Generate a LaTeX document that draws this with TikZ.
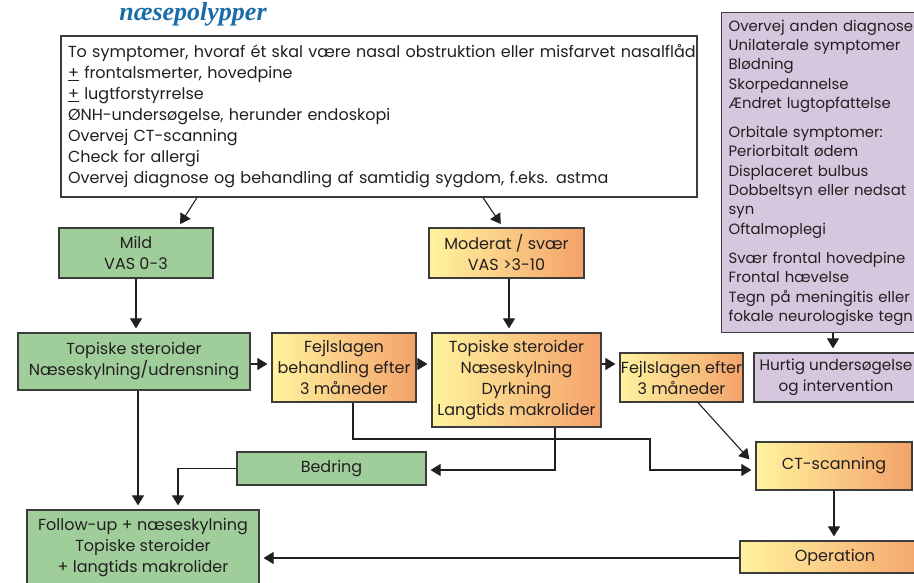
\documentclass[tikz,border=0pt]{standalone}
\usepackage{fontspec}
\setmainfont{Poppins}
\newfontfamily\titlefont{Liberation Serif}
\usetikzlibrary{arrows.meta,calc}
\definecolor{gfill}{RGB}{160,206,154}
\definecolor{pfill}{RGB}{214,198,222}
\definecolor{yl}{RGB}{255,243,158}
\definecolor{orng}{RGB}{244,162,106}
\definecolor{bord}{RGB}{60,60,60}
\definecolor{ink}{RGB}{35,31,32}
\definecolor{tblue}{RGB}{26,108,168}
\begin{document}
\begin{tikzpicture}[x=1pt,y=-1pt,
 every node/.style={font=\fontsize{16}{21}\selectfont, text=ink},
 box/.style={draw=bord, line width=1.2pt, inner sep=0pt, align=center},
 gbox/.style={box, fill=gfill},
 obox/.style={box, left color=yl, right color=orng},
 pbox/.style={box, fill=pfill},
 arr/.style={draw=ink, line width=1.1pt, -{Triangle[length=10pt,width=12pt]}, shorten >=4pt}]
\useasboundingbox (0,0) rectangle (914,582);
\fill[white] (0,0) rectangle (914,582);
\clip (0,0) rectangle (914,582);

\node[font=\titlefont\fontsize{26}{26}\selectfont\bfseries\itshape, text=tblue, anchor=base] (title) at (193,20) {næsepolypper};

\node[box, fill=white, minimum width=636pt, minimum height=161pt, text width=622pt, inner xsep=7pt, align=left] (top) at (379,116.5)
 {\mbox{To symptomer, hvoraf ét skal være nasal obstruktion eller misfarvet nasalflåd}\\
  \underline{+} frontalsmerter, hovedpine\\
  \underline{+} lugtforstyrrelse\\
  ØNH-undersøgelse, herunder endoskopi\\
  Overvej CT-scanning\\
  Check for allergi\\
  \mbox{Overvej diagnose og behandling af samtidig sygdom, f.eks. astma}};

\node[pbox, anchor=north west, minimum height=320pt, text width=250pt, inner xsep=7pt, align=left, font=\fontsize{14.9}{19.3}\selectfont] (purp) at (721,12)
 {Overvej anden diagnose\\Unilaterale symptomer\\Blødning\\Skorpedannelse\\Ændret lugtopfattelse\\[10pt]
  Orbitale symptomer:\\Periorbitalt ødem\\Displaceret bulbus\\Dobbeltsyn eller nedsat\\syn\\Oftalmoplegi\\[10pt]
  Svær frontal hovedpine\\Frontal hævelse\\Tegn på meningitis eller\\fokale neurologiske tegn};

\node[gbox, minimum width=154pt, minimum height=50pt] (mild) at (136,253) {Mild\\VAS 0-3};
\node[obox, minimum width=155pt, minimum height=50pt] (mod) at (506.5,253) {Moderat / svær\\VAS >3-10};
\node[gbox, minimum width=232pt, minimum height=57pt] (t1) at (134,361.5) {Topiske steroider\\Næseskylning/udrensning};
\node[obox, minimum width=144pt, minimum height=69pt] (f1) at (344,367.5) {Fejlslagen\\behandling efter\\3 måneder};
\node[obox, minimum width=169pt, minimum height=94pt] (t2) at (516.5,380) {Topiske steroider\\Næseskylning\\Dyrkning\\Langtids makrolider};
\node[obox, minimum width=123pt, minimum height=49pt] (f2) at (681.5,377.5) {Fejlslagen efter\\3 måneder};
\node[pbox, minimum width=164pt, minimum height=49pt, font=\fontsize{15.2}{21}\selectfont] (hurt) at (836,377.5) {Hurtig undersøgelse\\og intervention};
\node[gbox, minimum width=189pt, minimum height=33pt] (bed) at (331.5,468.5) {Bedring};
\node[obox, minimum width=156pt, minimum height=48pt] (ct) at (834,466) {CT-scanning};
\node[obox, minimum width=190pt, minimum height=32pt] (op) at (835,557) {Operation};
\node[gbox, minimum width=232pt, minimum height=76pt] (fu) at (143,548) {Follow-up + næseskylning\\Topiske steroider\\+ langtids makrolider};

\coordinate (h1) at (0,364);
\coordinate (h2) at (0,470);
\coordinate (h3) at (0,558);
\coordinate (c1) at (650,439);
\coordinate (vm) at (509,0);
\coordinate (vp) at (833,0);
\coordinate (v1) at (138,0);

\draw[arr] ($(top.south)+(-182,0)$) -- ($(mild.north)+(42,0)$);
\draw[arr] ($(top.south)+(104,0)$) -- ($(mod.north)+(-3.5,0)$);
\draw[arr] (mild.south) -- (mild.south |- t1.north);
\draw[arr] (vm |- mod.south) -- (vm |- t2.north);
\draw[arr] (t1.east |- h1) -- (f1.west |- h1);
\draw[arr] (f1.east |- h1) -- (t2.west |- h1);
\draw[arr] (t2.east |- h1) -- (f2.west |- h1);
\draw[arr] (vp |- purp.south) -- (vp |- hurt.north);
\draw[arr, shorten >=0pt] ($(f2.south)+(16.5,0)$) -- ($(ct.north west)+(-6,18)$);
\draw[arr] ($(f1.south)+(9,0)$) |- (c1) |- (ct.west |- h2);
\draw[arr] ($(t2.south)+(38.5,0)$) |- (bed.east |- h2);
\draw[arr] (bed.west) -| ($(fu.north)+(35,0)$);
\draw[arr] (v1 |- t1.south) -- (v1 |- fu.north);
\draw[arr] (ct.south) -- (ct.south |- op.north);
\draw[arr] (op.west |- h3) -- (fu.east |- h3);
\end{tikzpicture}
\end{document}
